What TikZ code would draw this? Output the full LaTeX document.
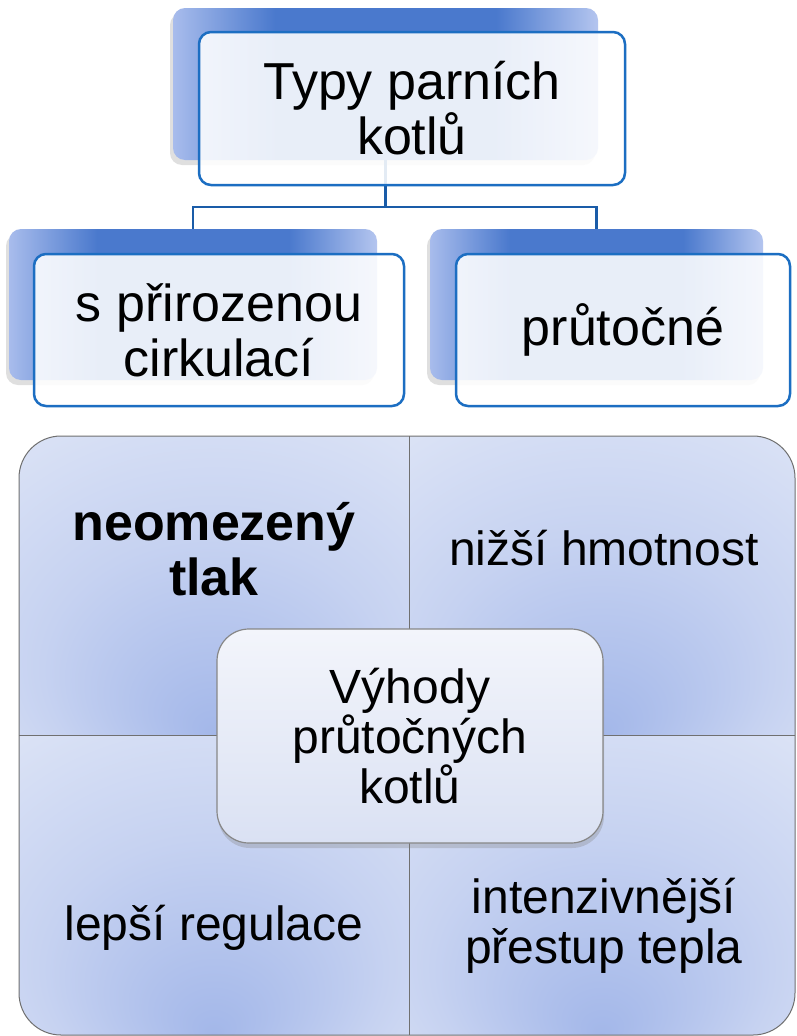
\documentclass[tikz,border=0pt]{standalone}
\usepackage{fontspec}
\setmainfont{Liberation Sans}
\usetikzlibrary{shadows}
\definecolor{backmid}{RGB}{74,121,205}
\definecolor{backedge}{RGB}{168,188,236}
\definecolor{backedgeR}{RGB}{180,197,239}
\definecolor{frontline}{RGB}{28,110,194}
\definecolor{connline}{RGB}{26,92,168}
\definecolor{quadtop}{RGB}{222,229,246}
\definecolor{quadmid}{RGB}{198,210,241}
\definecolor{quadbot}{RGB}{163,183,233}
\definecolor{quadline}{RGB}{112,112,112}
\definecolor{ctrtop}{RGB}{243,245,251}
\definecolor{ctrbot}{RGB}{218,225,243}
\definecolor{ctrline}{RGB}{135,135,135}
\pgfdeclarehorizontalshading{backshade}{100bp}{color(0bp)=(backedge); color(25bp)=(backedge); color(37bp)=(backmid); color(63bp)=(backmid); color(75bp)=(backedgeR); color(100bp)=(backedgeR)}
\pgfdeclareradialshading{quadshade}{\pgfpoint{0bp}{-25bp}}{color(0bp)=(quadbot); color(22bp)=(quadmid); color(42bp)=(quadtop); color(50bp)=(quadtop)}
\begin{document}
\begin{tikzpicture}[x=1pt,y=-1pt,
  backbox/.style={rectangle, rounded corners=12pt, shading=backshade, draw=none, inner sep=0pt,
    drop shadow={shadow xshift=-3pt, shadow yshift=-5pt, opacity=.25}},
  frontbox/.style={rectangle, rounded corners=12pt, draw=frontline, line width=2.5pt, fill=white, fill opacity=.88, text opacity=1,
    inner sep=0pt, align=center, font=\fontsize{52}{55}\selectfont},
  conn/.style={draw=connline, line width=2.5pt},
  quadfill/.style={shading=quadshade},
  quadborder/.style={draw=quadline, line width=1pt},
  quadtext/.style={align=center, inner sep=0pt, font=\fontsize{48}{50}\selectfont},
  ctrbox/.style={rectangle, rounded corners=32pt, top color=ctrtop, bottom color=ctrbot, draw=ctrline, line width=1.2pt,
    drop shadow={shadow xshift=1pt, shadow yshift=-5pt, opacity=.3}, inner sep=0pt, align=center, font=\fontsize{48}{50}\selectfont}]
\useasboundingbox (0,0) rectangle (796,1036);
\fill[white] (0,0) rectangle (796,1036);
% hierarchy
\node[backbox, minimum width=425pt, minimum height=152pt] (topback) at (385.5,84) {};
\node[backbox, minimum width=368pt, minimum height=151pt] (leftback) at (193,304.5) {};
\node[backbox, minimum width=333pt, minimum height=151pt] (rightback) at (596.5,304.5) {};
\draw[conn] (topback.south) -- ++(0,47) -| (leftback.north);
\draw[conn] (topback.south) ++(0,47) -| (rightback.north);
\node[frontbox, minimum width=426pt, minimum height=153pt] (top) at (412,108.5) {Typy parních\\kotlů};
\node[frontbox, minimum width=370pt, minimum height=152pt] (left) at (219,330) {s přirozenou\\cirkulací};
\node[frontbox, minimum width=334pt, minimum height=152pt] (right) at (623,330) {průtočné};
% matrix
\begin{scope}
  \clip[rounded corners=42pt] (19,436) rectangle (795,1035);
  \shade[quadfill] (19,436) rectangle (409,735);
  \shade[quadfill] (409,436) rectangle (795,735);
  \shade[quadfill] (19,735) rectangle (409,1035);
  \shade[quadfill] (409,735) rectangle (795,1035);
\end{scope}
\draw[quadborder, rounded corners=42pt] (19,436) rectangle (795,1035);
\draw[quadborder] (409,436) -- (409,1035);
\draw[quadborder] (19,735) -- (795,735);
\node[quadtext, font=\bfseries\fontsize{52}{55}\selectfont] (q1) at (214,549) {neomezený\\tlak};
\node[quadtext] (q2) at (604,548) {nižší hmotnost};
\node[quadtext] (q3) at (214,928) {lepší regulace};
\node[quadtext] (q4) at (604,926) {intenzivnější\\přestup tepla};
\node[ctrbox, minimum width=386pt, minimum height=214pt] (center) at (410,736) {Výhody\\průtočných\\kotlů};
\end{tikzpicture}
\end{document}
